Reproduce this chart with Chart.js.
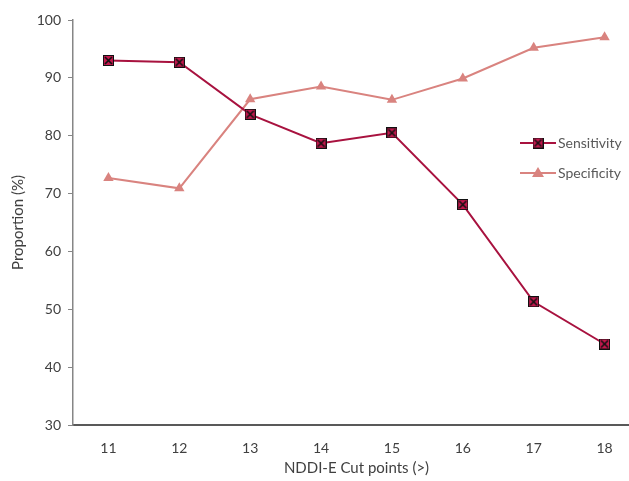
<!DOCTYPE html>
<html lang="en">
<head>
  <meta charset="UTF-8" />
  <title>Sensitivity and specificity by NDDI-E cut point</title>
  <script src="https://cdn.jsdelivr.net/npm/chart.js"></script>
  <style>
    html, body { margin: 0; padding: 0; background: #fff; overflow: hidden; }
    /* plot runs a little past the right edge, as in the original picture */
    #wrap { width: 629px; height: 481px; overflow: hidden; }
  </style>
</head>
<body>
  <div id="wrap"><canvas id="chart" width="648" height="481"></canvas></div>
  <script>
    const cutPoints = ["11", "12", "13", "14", "15", "16", "17", "18"];
    const sensitivity = [93.0, 92.7, 83.7, 78.7, 80.5, 68.1, 51.3, 44.0];
    const specificity = [72.7, 70.9, 86.3, 88.5, 86.2, 89.9, 95.2, 97.0];
    const yTicks = [30, 40, 50, 60, 70, 80, 90, 100];

    const sensLine = "#a8123f";
    const sensFill = "#c4174d";
    const specColor = "#d9837f";
    const fontFamily = "Lato, 'Open Sans', sans-serif";

    // square marker with an X, like the Excel one
    function crossSquare(size) {
      const c = document.createElement("canvas");
      c.width = size; c.height = size;
      const g = c.getContext("2d");
      g.fillStyle = sensFill;
      g.fillRect(0.5, 0.5, size - 1, size - 1);
      g.strokeStyle = "#111";
      g.lineWidth = 1;
      g.strokeRect(0.5, 0.5, size - 1, size - 1);
      g.lineWidth = 1.6;
      g.beginPath();
      g.moveTo(2, 2); g.lineTo(size - 2, size - 2);
      g.moveTo(size - 2, 2); g.lineTo(2, size - 2);
      g.stroke();
      return c;
    }
    const sqMarker = crossSquare(11);

    // legend drawn inside the plot, line + marker + label
    const sideLegend = {
      id: "sideLegend",
      afterDraw(chart) {
        const ctx = chart.ctx;
        const x0 = 520, x1 = 556, rows = [143, 173];
        ctx.save();
        chart.data.datasets.forEach((ds, i) => {
          const y = rows[i];
          ctx.strokeStyle = ds.borderColor;
          ctx.lineWidth = 2;
          ctx.beginPath();
          ctx.moveTo(x0, y); ctx.lineTo(x1, y);
          ctx.stroke();
          const mx = (x0 + x1) / 2;
          if (i === 0) {
            ctx.drawImage(sqMarker, mx - 5.5, y - 5.5);
          } else {
            ctx.fillStyle = specColor;
            ctx.beginPath();
            ctx.moveTo(mx, y - 6);
            ctx.lineTo(mx + 6, y + 4);
            ctx.lineTo(mx - 6, y + 4);
            ctx.closePath();
            ctx.fill();
          }
          ctx.fillStyle = "#595959";
          ctx.font = "14px " + fontFamily;
          ctx.textBaseline = "middle";
          ctx.fillText(ds.label, x1 + 2, y);
        });
        ctx.restore();
      }
    };

    new Chart(document.getElementById("chart"), {
      type: "line",
      data: {
        labels: cutPoints,
        datasets: [
          {
            label: "Sensitivity",
            data: sensitivity,
            borderColor: sensLine,
            borderWidth: 2,
            pointStyle: sqMarker,
            pointRadius: 6,
            tension: 0
          },
          {
            label: "Specificity",
            data: specificity,
            borderColor: specColor,
            backgroundColor: specColor,
            borderWidth: 2,
            pointStyle: "triangle",
            pointRadius: 6,
            pointBorderWidth: 0,
            tension: 0
          }
        ]
      },
      options: {
        responsive: false,
        animation: false,
        layout: { padding: { top: 20, right: 0, left: 0, bottom: 0 } },
        plugins: {
          legend: { display: false },
          tooltip: { enabled: false }
        },
        scales: {
          x: {
            offset: true,
            grid: { display: false },
            border: { display: true, color: "#595959", width: 2 },
            ticks: { color: "#404040", font: { family: fontFamily, size: 14 }, padding: 7 },
            title: {
              display: true,
              text: "NDDI-E Cut points (>)",
              color: "#404040",
              font: { family: fontFamily, size: 15 },
              padding: { top: 4 }
            },
            afterFit(s) { s.height = 56; }
          },
          y: {
            min: 30,
            max: 100,
            afterBuildTicks(s) { s.ticks = yTicks.map(v => ({ value: v })); },
            grid: { drawOnChartArea: false, drawTicks: true, tickLength: 5, color: "#868686" },
            border: { display: true, color: "#868686", width: 1.5 },
            ticks: { color: "#404040", font: { family: fontFamily, size: 14 }, padding: 7 },
            title: {
              display: true,
              text: "Proportion (%)",
              color: "#404040",
              font: { family: fontFamily, size: 15 },
              padding: { top: 9, bottom: 4 }
            },
            afterFit(s) { s.width = 73; }
          }
        }
      },
      plugins: [sideLegend]
    });
  </script>
</body>
</html>
